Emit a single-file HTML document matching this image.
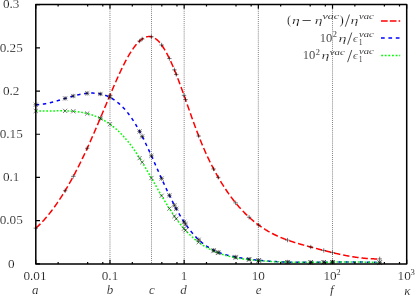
<!DOCTYPE html>
<html><head><meta charset="utf-8"><title>plot</title>
<style>
html,body{margin:0;padding:0;background:#fff;}
body{width:415px;height:296px;overflow:hidden;font-family:"Liberation Serif",serif;}
svg{display:block;position:absolute;left:0;top:0;}
text{font-family:"Liberation Serif",serif;fill:#000;stroke:#fff;stroke-width:0.22px;}
.i{font-style:italic;stroke-width:0.2px;}
.s{stroke-width:0.1px;}
</style></head><body>
<svg width="415" height="296" viewBox="0 0 415 296">
<rect x="0" y="0" width="415" height="296" fill="#fff"/>
<line x1="109.98" y1="4.60" x2="109.98" y2="263.90" stroke="#555" stroke-width="0.75" stroke-dasharray="1 1.06"/>
<line x1="151.51" y1="4.60" x2="151.51" y2="263.90" stroke="#555" stroke-width="0.75" stroke-dasharray="1 1.06"/>
<line x1="184.16" y1="4.60" x2="184.16" y2="263.90" stroke="#555" stroke-width="0.75" stroke-dasharray="1 1.06"/>
<line x1="258.34" y1="4.60" x2="258.34" y2="263.90" stroke="#555" stroke-width="0.75" stroke-dasharray="1 1.06"/>
<line x1="332.52" y1="4.60" x2="332.52" y2="263.90" stroke="#555" stroke-width="0.75" stroke-dasharray="1 1.06"/>
<path d="M35.80,228.15 L36.30,227.70 L36.80,227.25 L37.30,226.79 L37.80,226.33 L38.30,225.85 L38.80,225.37 L39.30,224.89 L39.80,224.39 L40.30,223.89 L40.80,223.39 L41.30,222.87 L41.80,222.35 L42.30,221.82 L42.80,221.29 L43.30,220.75 L43.80,220.20 L44.30,219.65 L44.80,219.08 L45.30,218.52 L45.80,217.94 L46.30,217.36 L46.80,216.77 L47.30,216.18 L47.80,215.58 L48.30,214.97 L48.80,214.35 L49.30,213.73 L49.80,213.10 L50.30,212.47 L50.80,211.83 L51.30,211.18 L51.80,210.53 L52.30,209.87 L52.80,209.20 L53.30,208.52 L53.80,207.84 L54.30,207.16 L54.80,206.46 L55.30,205.76 L55.80,205.06 L56.30,204.34 L56.80,203.63 L57.30,202.90 L57.80,202.17 L58.30,201.43 L58.80,200.68 L59.30,199.93 L59.80,199.18 L60.30,198.41 L60.80,197.64 L61.30,196.86 L61.80,196.08 L62.30,195.29 L62.80,194.50 L63.30,193.69 L63.80,192.89 L64.30,192.07 L64.80,191.25 L65.30,190.43 L65.80,189.59 L66.30,188.75 L66.80,187.91 L67.30,187.06 L67.80,186.20 L68.30,185.33 L68.80,184.46 L69.30,183.59 L69.80,182.71 L70.30,181.82 L70.80,180.92 L71.30,180.02 L71.80,179.12 L72.30,178.20 L72.80,177.28 L73.30,176.36 L73.80,175.43 L74.30,174.49 L74.80,173.55 L75.30,172.60 L75.80,171.65 L76.30,170.68 L76.80,169.72 L77.30,168.75 L77.80,167.77 L78.30,166.78 L78.80,165.79 L79.30,164.80 L79.80,163.79 L80.30,162.79 L80.80,161.77 L81.30,160.75 L81.80,159.73 L82.30,158.70 L82.80,157.66 L83.30,156.62 L83.80,155.57 L84.30,154.51 L84.80,153.45 L85.30,152.39 L85.80,151.32 L86.30,150.24 L86.80,149.16 L87.30,148.07 L87.80,146.97 L88.30,145.87 L88.80,144.77 L89.30,143.66 L89.80,142.54 L90.30,141.42 L90.80,140.30 L91.30,139.17 L91.80,138.03 L92.30,136.90 L92.80,135.75 L93.30,134.61 L93.80,133.46 L94.30,132.30 L94.80,131.15 L95.30,129.99 L95.80,128.83 L96.30,127.66 L96.80,126.49 L97.30,125.32 L97.80,124.15 L98.30,122.97 L98.80,121.79 L99.30,120.61 L99.80,119.43 L100.30,118.25 L100.80,117.06 L101.30,115.88 L101.80,114.69 L102.30,113.50 L102.80,112.31 L103.30,111.12 L103.80,109.93 L104.30,108.74 L104.80,107.55 L105.30,106.36 L105.80,105.17 L106.30,103.98 L106.80,102.79 L107.30,101.60 L107.80,100.42 L108.30,99.23 L108.80,98.04 L109.30,96.86 L109.80,95.67 L110.30,94.49 L110.80,93.31 L111.30,92.14 L111.80,90.96 L112.30,89.79 L112.80,88.62 L113.30,87.46 L113.80,86.30 L114.30,85.14 L114.80,83.99 L115.30,82.84 L115.80,81.70 L116.30,80.57 L116.80,79.44 L117.30,78.32 L117.80,77.21 L118.30,76.11 L118.80,75.01 L119.30,73.92 L119.80,72.84 L120.30,71.77 L120.80,70.71 L121.30,69.66 L121.80,68.61 L122.30,67.58 L122.80,66.57 L123.30,65.56 L123.80,64.56 L124.30,63.58 L124.80,62.61 L125.30,61.65 L125.80,60.70 L126.30,59.77 L126.80,58.86 L127.30,57.95 L127.80,57.07 L128.30,56.19 L128.80,55.34 L129.30,54.49 L129.80,53.67 L130.30,52.86 L130.80,52.07 L131.30,51.29 L131.80,50.53 L132.30,49.79 L132.80,49.06 L133.30,48.35 L133.80,47.66 L134.30,46.99 L134.80,46.33 L135.30,45.70 L135.80,45.08 L136.30,44.49 L136.80,43.91 L137.30,43.35 L137.80,42.81 L138.30,42.29 L138.80,41.80 L139.30,41.32 L139.80,40.86 L140.30,40.43 L140.80,40.01 L141.30,39.62 L141.80,39.25 L142.30,38.91 L142.80,38.58 L143.30,38.28 L143.80,38.00 L144.30,37.74 L144.80,37.51 L145.30,37.30 L145.80,37.12 L146.30,36.96 L146.80,36.82 L147.30,36.71 L147.80,36.62 L148.30,36.56 L148.80,36.53 L149.30,36.52 L149.80,36.53 L150.30,36.58 L150.80,36.65 L151.30,36.74 L151.80,36.87 L152.30,37.02 L152.80,37.19 L153.30,37.40 L153.80,37.64 L154.30,37.90 L154.80,38.19 L155.30,38.51 L155.80,38.86 L156.30,39.24 L156.80,39.65 L157.30,40.08 L157.80,40.55 L158.30,41.04 L158.80,41.57 L159.30,42.12 L159.80,42.70 L160.30,43.30 L160.80,43.93 L161.30,44.59 L161.80,45.27 L162.30,45.98 L162.80,46.71 L163.30,47.47 L163.80,48.25 L164.30,49.06 L164.80,49.89 L165.30,50.74 L165.80,51.62 L166.30,52.52 L166.80,53.44 L167.30,54.38 L167.80,55.34 L168.30,56.32 L168.80,57.32 L169.30,58.35 L169.80,59.39 L170.30,60.45 L170.80,61.53 L171.30,62.63 L171.80,63.75 L172.30,64.89 L172.80,66.04 L173.30,67.21 L173.80,68.39 L174.30,69.59 L174.80,70.81 L175.30,72.04 L175.80,73.29 L176.30,74.55 L176.80,75.83 L177.30,77.12 L177.80,78.42 L178.30,79.73 L178.80,81.05 L179.30,82.38 L179.80,83.73 L180.30,85.08 L180.80,86.44 L181.30,87.81 L181.80,89.18 L182.30,90.57 L182.80,91.96 L183.30,93.35 L183.80,94.75 L184.30,96.16 L184.80,97.57 L185.30,98.98 L185.80,100.40 L186.30,101.82 L186.80,103.24 L187.30,104.66 L187.80,106.08 L188.30,107.50 L188.80,108.92 L189.30,110.34 L189.80,111.76 L190.30,113.17 L190.80,114.58 L191.30,115.99 L191.80,117.39 L192.30,118.79 L192.80,120.19 L193.30,121.58 L193.80,122.96 L194.30,124.33 L194.80,125.70 L195.30,127.05 L195.80,128.40 L196.30,129.74 L196.80,131.07 L197.30,132.39 L197.80,133.70 L198.30,134.99 L198.80,136.27 L199.30,137.55 L199.80,138.80 L200.30,140.05 L200.80,141.28 L201.30,142.50 L201.80,143.71 L202.30,144.91 L202.80,146.09 L203.30,147.26 L203.80,148.43 L204.30,149.57 L204.80,150.71 L205.30,151.84 L205.80,152.96 L206.30,154.06 L206.80,155.15 L207.30,156.23 L207.80,157.31 L208.30,158.37 L208.80,159.42 L209.30,160.46 L209.80,161.49 L210.30,162.50 L210.80,163.51 L211.30,164.51 L211.80,165.50 L212.30,166.48 L212.80,167.45 L213.30,168.40 L213.80,169.35 L214.30,170.29 L214.80,171.22 L215.30,172.15 L215.80,173.06 L216.30,173.96 L216.80,174.86 L217.30,175.74 L217.80,176.62 L218.30,177.48 L218.80,178.34 L219.30,179.19 L219.80,180.04 L220.30,180.87 L220.80,181.70 L221.30,182.52 L221.80,183.33 L222.30,184.13 L222.80,184.92 L223.30,185.71 L223.80,186.49 L224.30,187.26 L224.80,188.03 L225.30,188.79 L225.80,189.54 L226.30,190.28 L226.80,191.02 L227.30,191.74 L227.80,192.47 L228.30,193.18 L228.80,193.89 L229.30,194.59 L229.80,195.28 L230.30,195.97 L230.80,196.65 L231.30,197.33 L231.80,197.99 L232.30,198.65 L232.80,199.31 L233.30,199.95 L233.80,200.59 L234.30,201.23 L234.80,201.85 L235.30,202.47 L235.80,203.09 L236.30,203.70 L236.80,204.30 L237.30,204.89 L237.80,205.48 L238.30,206.07 L238.80,206.64 L239.30,207.21 L239.80,207.78 L240.30,208.34 L240.80,208.89 L241.30,209.44 L241.80,209.98 L242.30,210.51 L242.80,211.04 L243.30,211.56 L243.80,212.08 L244.30,212.59 L244.80,213.10 L245.30,213.60 L245.80,214.10 L246.30,214.59 L246.80,215.07 L247.30,215.55 L247.80,216.02 L248.30,216.49 L248.80,216.95 L249.30,217.41 L249.80,217.86 L250.30,218.31 L250.80,218.75 L251.30,219.19 L251.80,219.62 L252.30,220.05 L252.80,220.47 L253.30,220.89 L253.80,221.30 L254.30,221.70 L254.80,222.11 L255.30,222.50 L255.80,222.90 L256.30,223.29 L256.80,223.67 L257.30,224.05 L257.80,224.42 L258.30,224.79 L258.80,225.16 L259.30,225.52 L259.80,225.88 L260.30,226.23 L260.80,226.58 L261.30,226.92 L261.80,227.26 L262.30,227.60 L262.80,227.93 L263.30,228.26 L263.80,228.58 L264.30,228.90 L264.80,229.21 L265.30,229.53 L265.80,229.83 L266.30,230.14 L266.80,230.44 L267.30,230.73 L267.80,231.03 L268.30,231.31 L268.80,231.60 L269.30,231.88 L269.80,232.16 L270.30,232.44 L270.80,232.71 L271.30,232.97 L271.80,233.24 L272.30,233.50 L272.80,233.76 L273.30,234.01 L273.80,234.27 L274.30,234.51 L274.80,234.76 L275.30,235.00 L275.80,235.24 L276.30,235.48 L276.80,235.71 L277.30,235.94 L277.80,236.17 L278.30,236.39 L278.80,236.62 L279.30,236.84 L279.80,237.05 L280.30,237.27 L280.80,237.48 L281.30,237.69 L281.80,237.89 L282.30,238.10 L282.80,238.30 L283.30,238.50 L283.80,238.69 L284.30,238.89 L284.80,239.08 L285.30,239.27 L285.80,239.46 L286.30,239.65 L286.80,239.83 L287.30,240.01 L287.80,240.19 L288.30,240.37 L288.80,240.54 L289.30,240.72 L289.80,240.89 L290.30,241.06 L290.80,241.23 L291.30,241.40 L291.80,241.56 L292.30,241.73 L292.80,241.89 L293.30,242.05 L293.80,242.21 L294.30,242.36 L294.80,242.52 L295.30,242.68 L295.80,242.83 L296.30,242.98 L296.80,243.13 L297.30,243.28 L297.80,243.43 L298.30,243.58 L298.80,243.73 L299.30,243.87 L299.80,244.02 L300.30,244.16 L300.80,244.30 L301.30,244.44 L301.80,244.58 L302.30,244.72 L302.80,244.86 L303.30,245.00 L303.80,245.14 L304.30,245.28 L304.80,245.42 L305.30,245.55 L305.80,245.69 L306.30,245.82 L306.80,245.96 L307.30,246.09 L307.80,246.23 L308.30,246.36 L308.80,246.50 L309.30,246.63 L309.80,246.77 L310.30,246.90 L310.80,247.03 L311.30,247.17 L311.80,247.30 L312.30,247.43 L312.80,247.57 L313.30,247.70 L313.80,247.83 L314.30,247.97 L314.80,248.10 L315.30,248.23 L315.80,248.37 L316.30,248.50 L316.80,248.63 L317.30,248.76 L317.80,248.90 L318.30,249.03 L318.80,249.16 L319.30,249.29 L319.80,249.42 L320.30,249.55 L320.80,249.68 L321.30,249.81 L321.80,249.95 L322.30,250.07 L322.80,250.20 L323.30,250.33 L323.80,250.46 L324.30,250.59 L324.80,250.72 L325.30,250.85 L325.80,250.97 L326.30,251.10 L326.80,251.22 L327.30,251.35 L327.80,251.48 L328.30,251.60 L328.80,251.72 L329.30,251.85 L329.80,251.97 L330.30,252.09 L330.80,252.21 L331.30,252.34 L331.80,252.46 L332.30,252.58 L332.80,252.69 L333.30,252.81 L333.80,252.93 L334.30,253.05 L334.80,253.17 L335.30,253.28 L335.80,253.40 L336.30,253.51 L336.80,253.62 L337.30,253.74 L337.80,253.85 L338.30,253.96 L338.80,254.07 L339.30,254.18 L339.80,254.29 L340.30,254.40 L340.80,254.50 L341.30,254.61 L341.80,254.71 L342.30,254.82 L342.80,254.92 L343.30,255.02 L343.80,255.12 L344.30,255.23 L344.80,255.32 L345.30,255.42 L345.80,255.52 L346.30,255.62 L346.80,255.71 L347.30,255.81 L347.80,255.90 L348.30,255.99 L348.80,256.08 L349.30,256.17 L349.80,256.26 L350.30,256.35 L350.80,256.43 L351.30,256.52 L351.80,256.60 L352.30,256.68 L352.80,256.77 L353.30,256.85 L353.80,256.92 L354.30,257.00 L354.80,257.08 L355.30,257.15 L355.80,257.23 L356.30,257.30 L356.80,257.37 L357.30,257.44 L357.80,257.51 L358.30,257.57 L358.80,257.64 L359.30,257.70 L359.80,257.77 L360.30,257.83 L360.80,257.89 L361.30,257.94 L361.80,258.00 L362.30,258.05 L362.80,258.11 L363.30,258.16 L363.80,258.21 L364.30,258.26 L364.80,258.31 L365.30,258.35 L365.80,258.40 L366.30,258.44 L366.80,258.48 L367.30,258.52 L367.80,258.56 L368.30,258.59 L368.80,258.62 L369.30,258.66 L369.80,258.69 L370.30,258.72 L370.80,258.74 L371.30,258.77 L371.80,258.79 L372.30,258.81 L372.80,258.83 L373.30,258.85 L373.80,258.87 L374.30,258.88 L374.80,258.89 L375.30,258.90 L375.80,258.91 L376.30,258.92 L376.80,258.92 L377.30,258.92 L377.80,258.93 L378.30,258.92 L378.80,258.92 L379.30,258.92" fill="none" stroke="#ff0000" stroke-width="1.5" stroke-dasharray="6.4 2.9"/>
<path d="M35.80,104.73 L36.30,104.72 L36.80,104.70 L37.30,104.68 L37.80,104.66 L38.30,104.63 L38.80,104.59 L39.30,104.55 L39.80,104.51 L40.30,104.46 L40.80,104.40 L41.30,104.34 L41.80,104.28 L42.30,104.22 L42.80,104.15 L43.30,104.07 L43.80,103.99 L44.30,103.91 L44.80,103.83 L45.30,103.74 L45.80,103.64 L46.30,103.55 L46.80,103.45 L47.30,103.35 L47.80,103.24 L48.30,103.13 L48.80,103.02 L49.30,102.91 L49.80,102.79 L50.30,102.67 L50.80,102.55 L51.30,102.43 L51.80,102.30 L52.30,102.17 L52.80,102.04 L53.30,101.91 L53.80,101.77 L54.30,101.63 L54.80,101.50 L55.30,101.36 L55.80,101.21 L56.30,101.07 L56.80,100.93 L57.30,100.78 L57.80,100.63 L58.30,100.49 L58.80,100.34 L59.30,100.19 L59.80,100.04 L60.30,99.88 L60.80,99.73 L61.30,99.58 L61.80,99.43 L62.30,99.27 L62.80,99.12 L63.30,98.97 L63.80,98.81 L64.30,98.66 L64.80,98.51 L65.30,98.35 L65.80,98.20 L66.30,98.05 L66.80,97.90 L67.30,97.74 L67.80,97.59 L68.30,97.44 L68.80,97.30 L69.30,97.15 L69.80,97.00 L70.30,96.86 L70.80,96.71 L71.30,96.57 L71.80,96.43 L72.30,96.29 L72.80,96.15 L73.30,96.01 L73.80,95.88 L74.30,95.75 L74.80,95.62 L75.30,95.49 L75.80,95.36 L76.30,95.24 L76.80,95.12 L77.30,95.00 L77.80,94.88 L78.30,94.77 L78.80,94.66 L79.30,94.55 L79.80,94.45 L80.30,94.35 L80.80,94.25 L81.30,94.15 L81.80,94.06 L82.30,93.97 L82.80,93.89 L83.30,93.81 L83.80,93.73 L84.30,93.66 L84.80,93.59 L85.30,93.53 L85.80,93.46 L86.30,93.41 L86.80,93.36 L87.30,93.31 L87.80,93.26 L88.30,93.23 L88.80,93.19 L89.30,93.16 L89.80,93.14 L90.30,93.12 L90.80,93.10 L91.30,93.10 L91.80,93.09 L92.30,93.09 L92.80,93.10 L93.30,93.11 L93.80,93.13 L94.30,93.16 L94.80,93.19 L95.30,93.22 L95.80,93.26 L96.30,93.31 L96.80,93.37 L97.30,93.43 L97.80,93.49 L98.30,93.57 L98.80,93.65 L99.30,93.74 L99.80,93.83 L100.30,93.93 L100.80,94.04 L101.30,94.15 L101.80,94.28 L102.30,94.40 L102.80,94.54 L103.30,94.69 L103.80,94.84 L104.30,95.00 L104.80,95.16 L105.30,95.34 L105.80,95.52 L106.30,95.71 L106.80,95.91 L107.30,96.12 L107.80,96.34 L108.30,96.56 L108.80,96.79 L109.30,97.04 L109.80,97.29 L110.30,97.54 L110.80,97.81 L111.30,98.09 L111.80,98.38 L112.30,98.67 L112.80,98.98 L113.30,99.29 L113.80,99.61 L114.30,99.95 L114.80,100.29 L115.30,100.64 L115.80,101.00 L116.30,101.37 L116.80,101.76 L117.30,102.15 L117.80,102.55 L118.30,102.96 L118.80,103.39 L119.30,103.82 L119.80,104.27 L120.30,104.72 L120.80,105.19 L121.30,105.66 L121.80,106.15 L122.30,106.65 L122.80,107.16 L123.30,107.68 L123.80,108.22 L124.30,108.76 L124.80,109.32 L125.30,109.88 L125.80,110.46 L126.30,111.05 L126.80,111.66 L127.30,112.27 L127.80,112.90 L128.30,113.54 L128.80,114.19 L129.30,114.86 L129.80,115.53 L130.30,116.22 L130.80,116.92 L131.30,117.64 L131.80,118.37 L132.30,119.11 L132.80,119.86 L133.30,120.63 L133.80,121.41 L134.30,122.20 L134.80,123.01 L135.30,123.83 L135.80,124.67 L136.30,125.51 L136.80,126.37 L137.30,127.25 L137.80,128.13 L138.30,129.03 L138.80,129.94 L139.30,130.86 L139.80,131.79 L140.30,132.74 L140.80,133.69 L141.30,134.65 L141.80,135.63 L142.30,136.61 L142.80,137.60 L143.30,138.60 L143.80,139.61 L144.30,140.63 L144.80,141.66 L145.30,142.69 L145.80,143.73 L146.30,144.78 L146.80,145.83 L147.30,146.89 L147.80,147.96 L148.30,149.03 L148.80,150.11 L149.30,151.19 L149.80,152.28 L150.30,153.38 L150.80,154.47 L151.30,155.57 L151.80,156.68 L152.30,157.78 L152.80,158.89 L153.30,160.01 L153.80,161.12 L154.30,162.24 L154.80,163.36 L155.30,164.48 L155.80,165.60 L156.30,166.72 L156.80,167.84 L157.30,168.97 L157.80,170.09 L158.30,171.21 L158.80,172.33 L159.30,173.45 L159.80,174.57 L160.30,175.69 L160.80,176.80 L161.30,177.91 L161.80,179.02 L162.30,180.13 L162.80,181.23 L163.30,182.33 L163.80,183.42 L164.30,184.51 L164.80,185.60 L165.30,186.68 L165.80,187.76 L166.30,188.83 L166.80,189.89 L167.30,190.95 L167.80,192.01 L168.30,193.06 L168.80,194.10 L169.30,195.13 L169.80,196.16 L170.30,197.18 L170.80,198.20 L171.30,199.21 L171.80,200.21 L172.30,201.20 L172.80,202.19 L173.30,203.16 L173.80,204.13 L174.30,205.09 L174.80,206.04 L175.30,206.99 L175.80,207.92 L176.30,208.85 L176.80,209.76 L177.30,210.67 L177.80,211.56 L178.30,212.45 L178.80,213.33 L179.30,214.19 L179.80,215.05 L180.30,215.89 L180.80,216.73 L181.30,217.55 L181.80,218.36 L182.30,219.16 L182.80,219.95 L183.30,220.73 L183.80,221.50 L184.30,222.26 L184.80,223.01 L185.30,223.74 L185.80,224.47 L186.30,225.19 L186.80,225.89 L187.30,226.59 L187.80,227.27 L188.30,227.95 L188.80,228.61 L189.30,229.27 L189.80,229.91 L190.30,230.54 L190.80,231.17 L191.30,231.78 L191.80,232.39 L192.30,232.98 L192.80,233.57 L193.30,234.14 L193.80,234.71 L194.30,235.27 L194.80,235.81 L195.30,236.35 L195.80,236.88 L196.30,237.40 L196.80,237.91 L197.30,238.41 L197.80,238.90 L198.30,239.38 L198.80,239.85 L199.30,240.32 L199.80,240.77 L200.30,241.22 L200.80,241.65 L201.30,242.08 L201.80,242.50 L202.30,242.92 L202.80,243.32 L203.30,243.71 L203.80,244.10 L204.30,244.48 L204.80,244.85 L205.30,245.22 L205.80,245.57 L206.30,245.92 L206.80,246.26 L207.30,246.60 L207.80,246.93 L208.30,247.25 L208.80,247.56 L209.30,247.86 L209.80,248.16 L210.30,248.46 L210.80,248.74 L211.30,249.02 L211.80,249.30 L212.30,249.56 L212.80,249.82 L213.30,250.08 L213.80,250.33 L214.30,250.57 L214.80,250.81 L215.30,251.04 L215.80,251.26 L216.30,251.49 L216.80,251.70 L217.30,251.91 L217.80,252.12 L218.30,252.32 L218.80,252.51 L219.30,252.70 L219.80,252.89 L220.30,253.07 L220.80,253.25 L221.30,253.42 L221.80,253.59 L222.30,253.75 L222.80,253.91 L223.30,254.07 L223.80,254.22 L224.30,254.37 L224.80,254.52 L225.30,254.66 L225.80,254.80 L226.30,254.93 L226.80,255.07 L227.30,255.19 L227.80,255.32 L228.30,255.44 L228.80,255.56 L229.30,255.68 L229.80,255.80 L230.30,255.91 L230.80,256.02 L231.30,256.13 L231.80,256.24 L232.30,256.34 L232.80,256.44 L233.30,256.54 L233.80,256.64 L234.30,256.74 L234.80,256.84 L235.30,256.93 L235.80,257.02 L236.30,257.12 L236.80,257.21 L237.30,257.30 L237.80,257.39 L238.30,257.48 L238.80,257.56 L239.30,257.65 L239.80,257.73 L240.30,257.82 L240.80,257.90 L241.30,257.98 L241.80,258.06 L242.30,258.14 L242.80,258.22 L243.30,258.30 L243.80,258.38 L244.30,258.45 L244.80,258.53 L245.30,258.60 L245.80,258.68 L246.30,258.75 L246.80,258.82 L247.30,258.89 L247.80,258.96 L248.30,259.03 L248.80,259.10 L249.30,259.17 L249.80,259.23 L250.30,259.30 L250.80,259.36 L251.30,259.43 L251.80,259.49 L252.30,259.55 L252.80,259.61 L253.30,259.67 L253.80,259.73 L254.30,259.79 L254.80,259.85 L255.30,259.90 L255.80,259.96 L256.30,260.02 L256.80,260.07 L257.30,260.12 L257.80,260.18 L258.30,260.23 L258.80,260.28 L259.30,260.33 L259.80,260.38 L260.30,260.43 L260.80,260.47 L261.30,260.52 L261.80,260.57 L262.30,260.61 L262.80,260.66 L263.30,260.70 L263.80,260.75 L264.30,260.79 L264.80,260.83 L265.30,260.87 L265.80,260.91 L266.30,260.95 L266.80,260.99 L267.30,261.03 L267.80,261.07 L268.30,261.11 L268.80,261.14 L269.30,261.18 L269.80,261.21 L270.30,261.25 L270.80,261.28 L271.30,261.31 L271.80,261.35 L272.30,261.38 L272.80,261.41 L273.30,261.44 L273.80,261.47 L274.30,261.50 L274.80,261.53 L275.30,261.56 L275.80,261.58 L276.30,261.61 L276.80,261.64 L277.30,261.66 L277.80,261.69 L278.30,261.71 L278.80,261.73 L279.30,261.76 L279.80,261.78 L280.30,261.80 L280.80,261.82 L281.30,261.85 L281.80,261.87 L282.30,261.89 L282.80,261.91 L283.30,261.93 L283.80,261.94 L284.30,261.96 L284.80,261.98 L285.30,262.00 L285.80,262.01 L286.30,262.03 L286.80,262.04 L287.30,262.06 L287.80,262.07 L288.30,262.09 L288.80,262.10 L289.30,262.11 L289.80,262.13 L290.30,262.14 L290.80,262.15 L291.30,262.16 L291.80,262.17 L292.30,262.18 L292.80,262.19 L293.30,262.20 L293.80,262.21 L294.30,262.22 L294.80,262.23 L295.30,262.24 L295.80,262.25 L296.30,262.25 L296.80,262.26 L297.30,262.27 L297.80,262.27 L298.30,262.28 L298.80,262.29 L299.30,262.29 L299.80,262.30 L300.30,262.30 L300.80,262.30 L301.30,262.31 L301.80,262.31 L302.30,262.31 L302.80,262.32 L303.30,262.32 L303.80,262.32 L304.30,262.32 L304.80,262.33 L305.30,262.33 L305.80,262.33 L306.30,262.33 L306.80,262.33 L307.30,262.33 L307.80,262.33 L308.30,262.33 L308.80,262.33 L309.30,262.33 L309.80,262.33 L310.30,262.33 L310.80,262.33 L311.30,262.33 L311.80,262.32 L312.30,262.32 L312.80,262.32 L313.30,262.32 L313.80,262.32 L314.30,262.31 L314.80,262.31 L315.30,262.31 L315.80,262.30 L316.30,262.30 L316.80,262.30 L317.30,262.29 L317.80,262.29 L318.30,262.29 L318.80,262.28 L319.30,262.28 L319.80,262.27 L320.30,262.27 L320.80,262.27 L321.30,262.26 L321.80,262.26 L322.30,262.25 L322.80,262.25 L323.30,262.24 L323.80,262.24 L324.30,262.23 L324.80,262.23 L325.30,262.22 L325.80,262.22 L326.30,262.21 L326.80,262.21 L327.30,262.20 L327.80,262.20 L328.30,262.19 L328.80,262.19 L329.30,262.18 L329.80,262.17 L330.30,262.17 L330.80,262.16 L331.30,262.16 L331.80,262.15 L332.30,262.15 L332.80,262.14 L333.30,262.14 L333.80,262.13 L334.30,262.13 L334.80,262.12 L335.30,262.12 L335.80,262.11 L336.30,262.11 L336.80,262.10 L337.30,262.10 L337.80,262.09 L338.30,262.09 L338.80,262.08 L339.30,262.08 L339.80,262.07 L340.30,262.07 L340.80,262.06 L341.30,262.06 L341.80,262.06 L342.30,262.05 L342.80,262.05 L343.30,262.04 L343.80,262.04 L344.30,262.04 L344.80,262.04 L345.30,262.03 L345.80,262.03 L346.30,262.03 L346.80,262.02 L347.30,262.02 L347.80,262.02 L348.30,262.02 L348.80,262.02 L349.30,262.02 L349.80,262.01 L350.30,262.01 L350.80,262.01 L351.30,262.01 L351.80,262.01 L352.30,262.01 L352.80,262.01 L353.30,262.01 L353.80,262.01 L354.30,262.01 L354.80,262.01 L355.30,262.02 L355.80,262.02 L356.30,262.02 L356.80,262.02 L357.30,262.02 L357.80,262.03 L358.30,262.03 L358.80,262.03 L359.30,262.04 L359.80,262.04 L360.30,262.05 L360.80,262.05 L361.30,262.06 L361.80,262.06 L362.30,262.07 L362.80,262.07 L363.30,262.08 L363.80,262.09 L364.30,262.10 L364.80,262.10 L365.30,262.11 L365.80,262.12 L366.30,262.13 L366.80,262.14 L367.30,262.15 L367.80,262.16 L368.30,262.17 L368.80,262.18 L369.30,262.19 L369.80,262.20 L370.30,262.21 L370.80,262.23 L371.30,262.24 L371.80,262.25 L372.30,262.27 L372.80,262.28 L373.30,262.30 L373.80,262.31 L374.30,262.33 L374.80,262.35 L375.30,262.36 L375.80,262.38 L376.30,262.40 L376.80,262.42 L377.30,262.43 L377.80,262.45 L378.30,262.47 L378.80,262.49 L379.30,262.52" fill="none" stroke="#0000ff" stroke-width="1.5" stroke-dasharray="3.4 3.7"/>
<path d="M35.80,110.96 L36.30,110.97 L36.80,110.99 L37.30,111.00 L37.80,111.01 L38.30,111.02 L38.80,111.03 L39.30,111.04 L39.80,111.05 L40.30,111.05 L40.80,111.06 L41.30,111.06 L41.80,111.06 L42.30,111.06 L42.80,111.06 L43.30,111.06 L43.80,111.06 L44.30,111.05 L44.80,111.05 L45.30,111.04 L45.80,111.04 L46.30,111.03 L46.80,111.03 L47.30,111.02 L47.80,111.01 L48.30,111.00 L48.80,111.00 L49.30,110.99 L49.80,110.98 L50.30,110.97 L50.80,110.96 L51.30,110.95 L51.80,110.94 L52.30,110.93 L52.80,110.92 L53.30,110.91 L53.80,110.91 L54.30,110.90 L54.80,110.89 L55.30,110.88 L55.80,110.87 L56.30,110.87 L56.80,110.86 L57.30,110.85 L57.80,110.85 L58.30,110.84 L58.80,110.84 L59.30,110.84 L59.80,110.83 L60.30,110.83 L60.80,110.83 L61.30,110.83 L61.80,110.83 L62.30,110.84 L62.80,110.84 L63.30,110.85 L63.80,110.85 L64.30,110.86 L64.80,110.87 L65.30,110.88 L65.80,110.89 L66.30,110.90 L66.80,110.92 L67.30,110.94 L67.80,110.95 L68.30,110.97 L68.80,111.00 L69.30,111.02 L69.80,111.05 L70.30,111.07 L70.80,111.10 L71.30,111.14 L71.80,111.17 L72.30,111.20 L72.80,111.24 L73.30,111.28 L73.80,111.33 L74.30,111.37 L74.80,111.42 L75.30,111.47 L75.80,111.52 L76.30,111.58 L76.80,111.64 L77.30,111.70 L77.80,111.76 L78.30,111.83 L78.80,111.90 L79.30,111.97 L79.80,112.04 L80.30,112.12 L80.80,112.20 L81.30,112.29 L81.80,112.37 L82.30,112.47 L82.80,112.56 L83.30,112.66 L83.80,112.76 L84.30,112.86 L84.80,112.97 L85.30,113.08 L85.80,113.20 L86.30,113.32 L86.80,113.44 L87.30,113.56 L87.80,113.70 L88.30,113.83 L88.80,113.97 L89.30,114.11 L89.80,114.26 L90.30,114.41 L90.80,114.56 L91.30,114.72 L91.80,114.88 L92.30,115.05 L92.80,115.22 L93.30,115.40 L93.80,115.58 L94.30,115.76 L94.80,115.95 L95.30,116.15 L95.80,116.35 L96.30,116.55 L96.80,116.76 L97.30,116.97 L97.80,117.19 L98.30,117.41 L98.80,117.64 L99.30,117.87 L99.80,118.11 L100.30,118.36 L100.80,118.61 L101.30,118.86 L101.80,119.12 L102.30,119.39 L102.80,119.66 L103.30,119.93 L103.80,120.21 L104.30,120.50 L104.80,120.79 L105.30,121.09 L105.80,121.40 L106.30,121.71 L106.80,122.02 L107.30,122.34 L107.80,122.67 L108.30,123.01 L108.80,123.35 L109.30,123.69 L109.80,124.05 L110.30,124.41 L110.80,124.77 L111.30,125.14 L111.80,125.52 L112.30,125.90 L112.80,126.30 L113.30,126.69 L113.80,127.10 L114.30,127.51 L114.80,127.93 L115.30,128.35 L115.80,128.78 L116.30,129.22 L116.80,129.66 L117.30,130.12 L117.80,130.58 L118.30,131.04 L118.80,131.52 L119.30,132.00 L119.80,132.48 L120.30,132.98 L120.80,133.48 L121.30,133.99 L121.80,134.51 L122.30,135.04 L122.80,135.57 L123.30,136.11 L123.80,136.66 L124.30,137.21 L124.80,137.78 L125.30,138.35 L125.80,138.93 L126.30,139.52 L126.80,140.11 L127.30,140.72 L127.80,141.33 L128.30,141.95 L128.80,142.58 L129.30,143.21 L129.80,143.86 L130.30,144.51 L130.80,145.17 L131.30,145.84 L131.80,146.52 L132.30,147.21 L132.80,147.91 L133.30,148.61 L133.80,149.32 L134.30,150.04 L134.80,150.77 L135.30,151.51 L135.80,152.25 L136.30,153.00 L136.80,153.76 L137.30,154.52 L137.80,155.29 L138.30,156.07 L138.80,156.85 L139.30,157.64 L139.80,158.43 L140.30,159.23 L140.80,160.04 L141.30,160.85 L141.80,161.66 L142.30,162.48 L142.80,163.31 L143.30,164.14 L143.80,164.97 L144.30,165.81 L144.80,166.65 L145.30,167.49 L145.80,168.34 L146.30,169.19 L146.80,170.05 L147.30,170.90 L147.80,171.76 L148.30,172.63 L148.80,173.49 L149.30,174.36 L149.80,175.22 L150.30,176.09 L150.80,176.97 L151.30,177.84 L151.80,178.71 L152.30,179.59 L152.80,180.46 L153.30,181.34 L153.80,182.21 L154.30,183.09 L154.80,183.96 L155.30,184.84 L155.80,185.71 L156.30,186.59 L156.80,187.46 L157.30,188.33 L157.80,189.20 L158.30,190.07 L158.80,190.94 L159.30,191.80 L159.80,192.67 L160.30,193.53 L160.80,194.39 L161.30,195.24 L161.80,196.10 L162.30,196.95 L162.80,197.79 L163.30,198.64 L163.80,199.48 L164.30,200.31 L164.80,201.15 L165.30,201.97 L165.80,202.80 L166.30,203.62 L166.80,204.43 L167.30,205.25 L167.80,206.05 L168.30,206.85 L168.80,207.65 L169.30,208.44 L169.80,209.23 L170.30,210.01 L170.80,210.78 L171.30,211.55 L171.80,212.31 L172.30,213.07 L172.80,213.82 L173.30,214.56 L173.80,215.30 L174.30,216.03 L174.80,216.76 L175.30,217.47 L175.80,218.18 L176.30,218.88 L176.80,219.58 L177.30,220.27 L177.80,220.94 L178.30,221.62 L178.80,222.28 L179.30,222.93 L179.80,223.58 L180.30,224.22 L180.80,224.84 L181.30,225.46 L181.80,226.07 L182.30,226.68 L182.80,227.27 L183.30,227.86 L183.80,228.43 L184.30,229.00 L184.80,229.56 L185.30,230.12 L185.80,230.66 L186.30,231.20 L186.80,231.73 L187.30,232.25 L187.80,232.76 L188.30,233.27 L188.80,233.77 L189.30,234.26 L189.80,234.74 L190.30,235.22 L190.80,235.69 L191.30,236.16 L191.80,236.61 L192.30,237.06 L192.80,237.51 L193.30,237.94 L193.80,238.38 L194.30,238.80 L194.80,239.22 L195.30,239.63 L195.80,240.04 L196.30,240.44 L196.80,240.83 L197.30,241.22 L197.80,241.60 L198.30,241.98 L198.80,242.35 L199.30,242.71 L199.80,243.07 L200.30,243.43 L200.80,243.77 L201.30,244.12 L201.80,244.45 L202.30,244.79 L202.80,245.11 L203.30,245.44 L203.80,245.75 L204.30,246.07 L204.80,246.37 L205.30,246.68 L205.80,246.97 L206.30,247.27 L206.80,247.55 L207.30,247.84 L207.80,248.12 L208.30,248.39 L208.80,248.66 L209.30,248.92 L209.80,249.19 L210.30,249.44 L210.80,249.69 L211.30,249.94 L211.80,250.18 L212.30,250.42 L212.80,250.66 L213.30,250.89 L213.80,251.12 L214.30,251.34 L214.80,251.56 L215.30,251.77 L215.80,251.98 L216.30,252.19 L216.80,252.40 L217.30,252.60 L217.80,252.79 L218.30,252.98 L218.80,253.17 L219.30,253.36 L219.80,253.54 L220.30,253.72 L220.80,253.89 L221.30,254.06 L221.80,254.23 L222.30,254.40 L222.80,254.56 L223.30,254.72 L223.80,254.87 L224.30,255.02 L224.80,255.17 L225.30,255.32 L225.80,255.46 L226.30,255.60 L226.80,255.74 L227.30,255.87 L227.80,256.01 L228.30,256.14 L228.80,256.26 L229.30,256.39 L229.80,256.51 L230.30,256.63 L230.80,256.74 L231.30,256.85 L231.80,256.97 L232.30,257.07 L232.80,257.18 L233.30,257.29 L233.80,257.39 L234.30,257.49 L234.80,257.59 L235.30,257.68 L235.80,257.77 L236.30,257.87 L236.80,257.96 L237.30,258.04 L237.80,258.13 L238.30,258.21 L238.80,258.30 L239.30,258.38 L239.80,258.46 L240.30,258.53 L240.80,258.61 L241.30,258.68 L241.80,258.76 L242.30,258.83 L242.80,258.90 L243.30,258.97 L243.80,259.03 L244.30,259.10 L244.80,259.16 L245.30,259.23 L245.80,259.29 L246.30,259.35 L246.80,259.41 L247.30,259.47 L247.80,259.53 L248.30,259.59 L248.80,259.65 L249.30,259.70 L249.80,259.76 L250.30,259.81 L250.80,259.87 L251.30,259.92 L251.80,259.97 L252.30,260.02 L252.80,260.07 L253.30,260.12 L253.80,260.17 L254.30,260.22 L254.80,260.27 L255.30,260.32 L255.80,260.36 L256.30,260.41 L256.80,260.45 L257.30,260.50 L257.80,260.54 L258.30,260.59 L258.80,260.63 L259.30,260.67 L259.80,260.71 L260.30,260.75 L260.80,260.79 L261.30,260.83 L261.80,260.87 L262.30,260.91 L262.80,260.94 L263.30,260.98 L263.80,261.02 L264.30,261.05 L264.80,261.09 L265.30,261.12 L265.80,261.15 L266.30,261.19 L266.80,261.22 L267.30,261.25 L267.80,261.28 L268.30,261.31 L268.80,261.34 L269.30,261.37 L269.80,261.40 L270.30,261.43 L270.80,261.45 L271.30,261.48 L271.80,261.51 L272.30,261.53 L272.80,261.56 L273.30,261.58 L273.80,261.61 L274.30,261.63 L274.80,261.66 L275.30,261.68 L275.80,261.70 L276.30,261.72 L276.80,261.74 L277.30,261.77 L277.80,261.79 L278.30,261.81 L278.80,261.82 L279.30,261.84 L279.80,261.86 L280.30,261.88 L280.80,261.90 L281.30,261.91 L281.80,261.93 L282.30,261.95 L282.80,261.96 L283.30,261.98 L283.80,261.99 L284.30,262.01 L284.80,262.02 L285.30,262.03 L285.80,262.05 L286.30,262.06 L286.80,262.07 L287.30,262.08 L287.80,262.10 L288.30,262.11 L288.80,262.12 L289.30,262.13 L289.80,262.14 L290.30,262.15 L290.80,262.16 L291.30,262.16 L291.80,262.17 L292.30,262.18 L292.80,262.19 L293.30,262.20 L293.80,262.20 L294.30,262.21 L294.80,262.22 L295.30,262.22 L295.80,262.23 L296.30,262.23 L296.80,262.24 L297.30,262.24 L297.80,262.25 L298.30,262.25 L298.80,262.26 L299.30,262.26 L299.80,262.26 L300.30,262.27 L300.80,262.27 L301.30,262.27 L301.80,262.27 L302.30,262.28 L302.80,262.28 L303.30,262.28 L303.80,262.28 L304.30,262.28 L304.80,262.28 L305.30,262.28 L305.80,262.28 L306.30,262.28 L306.80,262.28 L307.30,262.28 L307.80,262.28 L308.30,262.28 L308.80,262.28 L309.30,262.28 L309.80,262.28 L310.30,262.28 L310.80,262.28 L311.30,262.28 L311.80,262.27 L312.30,262.27 L312.80,262.27 L313.30,262.27 L313.80,262.26 L314.30,262.26 L314.80,262.26 L315.30,262.26 L315.80,262.25 L316.30,262.25 L316.80,262.25 L317.30,262.24 L317.80,262.24 L318.30,262.24 L318.80,262.23 L319.30,262.23 L319.80,262.22 L320.30,262.22 L320.80,262.22 L321.30,262.21 L321.80,262.21 L322.30,262.20 L322.80,262.20 L323.30,262.20 L323.80,262.19 L324.30,262.19 L324.80,262.18 L325.30,262.18 L325.80,262.17 L326.30,262.17 L326.80,262.16 L327.30,262.16 L327.80,262.15 L328.30,262.15 L328.80,262.15 L329.30,262.14 L329.80,262.14 L330.30,262.13 L330.80,262.13 L331.30,262.12 L331.80,262.12 L332.30,262.11 L332.80,262.11 L333.30,262.10 L333.80,262.10 L334.30,262.10 L334.80,262.09 L335.30,262.09 L335.80,262.08 L336.30,262.08 L336.80,262.08 L337.30,262.07 L337.80,262.07 L338.30,262.06 L338.80,262.06 L339.30,262.06 L339.80,262.05 L340.30,262.05 L340.80,262.05 L341.30,262.04 L341.80,262.04 L342.30,262.04 L342.80,262.03 L343.30,262.03 L343.80,262.03 L344.30,262.03 L344.80,262.03 L345.30,262.02 L345.80,262.02 L346.30,262.02 L346.80,262.02 L347.30,262.02 L347.80,262.02 L348.30,262.02 L348.80,262.01 L349.30,262.01 L349.80,262.01 L350.30,262.01 L350.80,262.01 L351.30,262.01 L351.80,262.01 L352.30,262.02 L352.80,262.02 L353.30,262.02 L353.80,262.02 L354.30,262.02 L354.80,262.02 L355.30,262.03 L355.80,262.03 L356.30,262.03 L356.80,262.03 L357.30,262.04 L357.80,262.04 L358.30,262.04 L358.80,262.05 L359.30,262.05 L359.80,262.06 L360.30,262.06 L360.80,262.07 L361.30,262.07 L361.80,262.08 L362.30,262.09 L362.80,262.09 L363.30,262.10 L363.80,262.11 L364.30,262.11 L364.80,262.12 L365.30,262.13 L365.80,262.14 L366.30,262.15 L366.80,262.16 L367.30,262.17 L367.80,262.18 L368.30,262.19 L368.80,262.20 L369.30,262.21 L369.80,262.22 L370.30,262.23 L370.80,262.25 L371.30,262.26 L371.80,262.27 L372.30,262.29 L372.80,262.30 L373.30,262.32 L373.80,262.33 L374.30,262.35 L374.80,262.36 L375.30,262.38 L375.80,262.39 L376.30,262.41 L376.80,262.43 L377.30,262.45 L377.80,262.47 L378.30,262.49 L378.80,262.51 L379.30,262.53" fill="none" stroke="#00ff00" stroke-width="1.5" stroke-dasharray="1.7 1.8"/>
<path d="M33.60,228.15H38.00M35.80,225.95V230.35M33.60,104.73H38.00M35.80,102.53V106.93M33.70,102.63L37.90,106.83M33.70,106.83L37.90,102.63M33.70,108.86L37.90,113.06M33.70,113.06L37.90,108.86M62.90,190.76H67.30M65.10,188.56V192.96M62.90,98.41H67.30M65.10,96.21V100.61M63.00,96.31L67.20,100.51M63.00,100.51L67.20,96.31M63.00,108.78L67.20,112.98M63.00,112.98L67.20,108.78M71.10,176.36H75.50M73.30,174.16V178.56M71.10,96.01H75.50M73.30,93.81V98.21M71.20,93.91L75.40,98.11M71.20,98.11L75.40,93.91M71.20,109.18L75.40,113.38M71.20,113.38L75.40,109.18M85.00,148.28H89.40M87.20,146.08V150.48M85.00,93.32H89.40M87.20,91.12V95.52M85.10,91.22L89.30,95.42M85.10,95.42L89.30,91.22M85.10,111.44L89.30,115.64M85.10,115.64L89.30,111.44M98.20,118.01H102.60M100.40,115.81V120.21M98.20,93.95H102.60M100.40,91.75V96.15M98.30,91.85L102.50,96.05M98.30,96.05L102.50,91.85M98.30,116.31L102.50,120.51M98.30,120.51L102.50,116.31M107.80,95.20H112.20M110.00,93.00V97.40M107.80,97.39H112.20M110.00,95.19V99.59M107.90,95.29L112.10,99.49M107.90,99.49L112.10,95.29M107.90,122.09L112.10,126.29M107.90,126.29L112.10,122.09M137.40,41.04H141.80M139.60,38.84V43.24M137.40,131.42H141.80M139.60,129.22V133.62M137.50,129.32L141.70,133.52M137.50,133.52L141.70,129.32M137.50,156.02L141.70,160.22M137.50,160.22L141.70,156.02M140.00,38.97H144.40M142.20,36.77V41.17M140.00,136.41H144.40M142.20,134.21V138.61M140.10,134.31L144.30,138.51M140.10,138.51L144.30,134.31M140.10,160.22L144.30,164.42M140.10,164.42L144.30,160.22M149.20,36.76H153.60M151.40,34.56V38.96M149.20,155.79H153.60M151.40,153.59V157.99M149.30,153.69L153.50,157.89M149.30,157.89L153.50,153.69M149.30,175.91L153.50,180.11M149.30,180.11L153.50,175.91M159.40,45.00H163.80M161.60,42.80V47.20M159.40,178.58H163.80M161.60,176.38V180.78M159.50,176.48L163.70,180.68M159.50,180.68L163.70,176.48M159.50,193.66L163.70,197.86M159.50,197.86L163.70,193.66M167.20,58.55H171.60M169.40,56.35V60.75M167.20,195.34H171.60M169.40,193.14V197.54M167.30,193.24L171.50,197.44M167.30,197.44L171.50,193.24M167.30,206.50L171.50,210.70M167.30,210.70L171.50,206.50M172.20,69.84H176.60M174.40,67.64V72.04M172.20,205.28H176.60M174.40,203.08V207.48M172.30,203.18L176.50,207.38M172.30,207.38L176.50,203.18M172.30,214.08L176.50,218.28M172.30,218.28L176.50,214.08M174.05,74.43H178.45M176.25,72.23V76.63M174.05,208.75H178.45M176.25,206.55V210.95M174.15,206.65L178.35,210.85M174.15,210.85L178.35,206.65M174.15,216.71L178.35,220.91M174.15,220.91L178.35,216.71M181.80,95.32H186.20M184.00,93.12V97.52M181.80,221.81H186.20M184.00,219.61V224.01M181.90,219.71L186.10,223.91M181.90,223.91L186.10,219.71M181.90,226.56L186.10,230.76M181.90,230.76L186.10,226.56M183.30,99.55H187.70M185.50,97.35V101.75M183.30,224.04H187.70M185.50,221.84V226.24M183.40,221.94L187.60,226.14M183.40,226.14L187.60,221.94M183.40,228.23L187.60,232.43M183.40,232.43L187.60,228.23M196.50,136.02H200.90M198.70,133.82V138.22M196.50,239.76H200.90M198.70,237.56V241.96M196.60,237.66L200.80,241.86M196.60,241.86L200.80,237.66M196.60,240.17L200.80,244.37M196.60,244.37L200.80,240.17M211.40,168.98H215.80M213.60,166.78V171.18M211.40,250.23H215.80M213.60,248.03V252.43M211.50,248.13L215.70,252.33M211.50,252.33L215.70,248.13M211.50,248.93L215.70,253.13M211.50,253.13L215.70,248.93M216.00,177.31H220.40M218.20,175.11V179.51M216.00,252.28H220.40M218.20,250.08V254.48M216.10,250.18L220.30,254.38M216.10,254.38L220.30,250.18M216.10,250.85L220.30,255.05M216.10,255.05L220.30,250.85M233.40,202.84H237.80M235.60,200.64V205.04M233.40,256.99H237.80M235.60,254.79V259.19M233.50,254.89L237.70,259.09M233.50,259.09L237.70,254.89M233.50,255.64L237.70,259.84M233.50,259.84L237.70,255.64M246.90,217.23H251.30M249.10,215.03V219.43M246.90,259.14H251.30M249.10,256.94V261.34M247.00,257.04L251.20,261.24M247.00,261.24L251.20,257.04M247.00,257.58L251.20,261.78M247.00,261.78L251.20,257.58M256.50,225.09H260.90M258.70,222.89V227.29M256.50,260.27H260.90M258.70,258.07V262.47M256.60,258.17L260.80,262.37M256.60,262.37L260.80,258.17M256.60,258.52L260.80,262.72M256.60,262.72L260.80,258.52M285.30,240.08H289.70M287.50,237.88V242.28M285.30,262.06H289.70M287.50,259.86V264.26M285.40,259.96L289.60,264.16M285.40,264.16L289.60,259.96M285.40,259.99L289.60,264.19M285.40,264.19L289.60,259.99M308.55,247.02H312.95M310.75,244.82V249.22M308.55,262.33H312.95M310.75,260.13V264.53M308.65,260.23L312.85,264.43M308.65,264.43L312.85,260.23M308.65,260.18L312.85,264.38M308.65,264.38L312.85,260.18M321.55,250.45H325.95M323.75,248.25V252.65M321.55,262.24H325.95M323.75,260.04V264.44M321.65,260.14L325.85,264.34M321.65,264.34L325.85,260.14M321.65,260.09L325.85,264.29M321.65,264.29L325.85,260.09M330.30,252.62H334.70M332.50,250.42V254.82M330.30,262.15H334.70M332.50,259.95V264.35M330.40,260.05L334.60,264.25M330.40,264.25L334.60,260.05M330.40,260.01L334.60,264.21M330.40,264.21L334.60,260.01M377.50,258.91H381.90M379.70,256.71V261.11M377.50,262.53H381.90M379.70,260.33V264.73M377.60,260.43L381.80,264.63M377.60,264.63L381.80,260.43M377.60,260.44L381.80,264.64M377.60,264.64L381.80,260.44" fill="none" stroke="#111" stroke-width="0.55"/>
<path d="M381,20.9H400.2" stroke="#ff0000" stroke-width="1.5" stroke-dasharray="6.7 2.1" fill="none"/>
<path d="M381,37.9H400.2" stroke="#0000ff" stroke-width="1.5" stroke-dasharray="3.7 3.7" fill="none"/>
<path d="M381.2,55.4H400.2" stroke="#00ff00" stroke-width="1.5" stroke-dasharray="1.8 1.8" fill="none"/>
<path d="M35.80,263.90h4.2M35.80,220.68h4.2M35.80,177.47h4.2M35.80,134.25h4.2M35.80,91.03h4.2M35.80,47.82h4.2M35.80,4.60h4.2M35.80,263.90v-4.2M35.80,4.60v4.2M58.13,263.90v-1.9M58.13,4.60v1.9M87.65,263.90v-1.9M87.65,4.60v1.9M102.79,263.90v-1.9M102.79,4.60v1.9M109.98,263.90v-4.2M109.98,4.60v4.2M132.31,263.90v-1.9M132.31,4.60v1.9M161.83,263.90v-1.9M161.83,4.60v1.9M176.97,263.90v-1.9M176.97,4.60v1.9M184.16,263.90v-4.2M184.16,4.60v4.2M206.49,263.90v-1.9M206.49,4.60v1.9M236.01,263.90v-1.9M236.01,4.60v1.9M251.15,263.90v-1.9M251.15,4.60v1.9M258.34,263.90v-4.2M258.34,4.60v4.2M280.67,263.90v-1.9M280.67,4.60v1.9M310.19,263.90v-1.9M310.19,4.60v1.9M325.33,263.90v-1.9M325.33,4.60v1.9M332.52,263.90v-4.2M332.52,4.60v4.2M354.85,263.90v-1.9M354.85,4.60v1.9M384.37,263.90v-1.9M384.37,4.60v1.9M399.51,263.90v-1.9M399.51,4.60v1.9M406.70,263.90v-4.2M406.70,4.60v4.2" fill="none" stroke="#000" stroke-width="1.2"/>
<rect x="35.8" y="4.6" width="370.90" height="259.30" fill="none" stroke="#000" stroke-width="1.5" stroke-linejoin="round"/>
<g opacity="0.999">
<text transform="translate(11.20,267.70) scale(1.0,1)" font-size="13.2" text-anchor="middle">0</text>
<text transform="translate(11.20,224.48) scale(1.0,1)" font-size="13.2" text-anchor="middle">0.05</text>
<text transform="translate(11.20,181.27) scale(1.0,1)" font-size="13.2" text-anchor="middle">0.1</text>
<text transform="translate(11.20,138.05) scale(1.0,1)" font-size="13.2" text-anchor="middle">0.15</text>
<text transform="translate(11.20,94.83) scale(1.0,1)" font-size="13.2" text-anchor="middle">0.2</text>
<text transform="translate(11.20,51.62) scale(1.0,1)" font-size="13.2" text-anchor="middle">0.25</text>
<text transform="translate(11.20,8.40) scale(1.0,1)" font-size="13.2" text-anchor="middle">0.3</text>
<text transform="translate(35.00,279.90) scale(1.0,1)" font-size="13.2" text-anchor="middle">0.01</text>
<text transform="translate(109.98,279.90) scale(1.0,1)" font-size="13.2" text-anchor="middle">0.1</text>
<text transform="translate(184.16,279.90) scale(1.0,1)" font-size="13.2" text-anchor="middle">1</text>
<text transform="translate(258.34,279.90) scale(1.0,1)" font-size="13.2" text-anchor="middle">10</text>
<text transform="translate(323.42,279.90) scale(1.0,1)" font-size="13.2">10</text>
<text transform="translate(336.22,274.70) scale(1.0,1)" font-size="8.7" class="s">2</text>
<text transform="translate(397.60,279.90) scale(1.0,1)" font-size="13.2">10</text>
<text transform="translate(410.40,274.70) scale(1.0,1)" font-size="8.7" class="s">3</text>
<text transform="translate(35.20,293.50) scale(1.0,1)" font-size="13" text-anchor="middle" class="i">a</text>
<text transform="translate(109.98,293.50) scale(1.0,1)" font-size="13" text-anchor="middle" class="i">b</text>
<text transform="translate(151.81,293.50) scale(1.0,1)" font-size="13" text-anchor="middle" class="i">c</text>
<text transform="translate(183.46,293.50) scale(1.0,1)" font-size="13" text-anchor="middle" class="i">d</text>
<text transform="translate(258.54,293.50) scale(1.0,1)" font-size="13" text-anchor="middle" class="i">e</text>
<text transform="translate(331.82,293.50) scale(1.0,1)" font-size="13" text-anchor="middle" class="i">f</text>
<text transform="translate(407.30,294.70) scale(1.0,1)" font-size="13" text-anchor="middle" class="i">κ</text>
<text transform="translate(287.04,23.80) scale(0.973,1)" font-size="13.2">(</text>
<text transform="translate(292.04,23.80) scale(1.432,1)" font-size="11.0" class="i">η</text>
<text transform="translate(314.64,23.80) scale(1.432,1)" font-size="11.0" class="i">η</text>
<text transform="translate(322.44,19.10) scale(1.407,1)" font-size="8.5" class="i s">vac</text>
<text transform="translate(339.59,23.80) scale(0.973,1)" font-size="13.2">)</text>
<text transform="translate(350.43,23.80) scale(1.454,1)" font-size="11.0" class="i">η</text>
<text transform="translate(359.06,19.10) scale(1.243,1)" font-size="8.5" class="i s">vac</text>
<text transform="translate(319.79,41.80) scale(0.953,1)" font-size="13.2">10</text>
<text transform="translate(332.51,37.20) scale(1.057,1)" font-size="8.5" class="s">2</text>
<text transform="translate(302.69,59.25) scale(0.953,1)" font-size="13.2">10</text>
<text transform="translate(315.41,54.65) scale(1.057,1)" font-size="8.5" class="s">2</text>
<text transform="translate(338.62,41.80) scale(1.476,1)" font-size="11.0" class="i">η</text>
<text transform="translate(321.43,59.25) scale(1.454,1)" font-size="11.0" class="i">η</text>
<text transform="translate(329.85,54.55) scale(1.260,1)" font-size="8.5" class="i s">vac</text>
<text transform="translate(352.95,41.80) scale(1.054,1)" font-size="11.0" class="i">ϵ</text>
<text transform="translate(358.90,44.60) scale(0.802,1)" font-size="8.5" class="s">1</text>
<text transform="translate(359.06,36.80) scale(1.243,1)" font-size="8.5" class="i s">vac</text>
<text transform="translate(352.95,59.25) scale(1.054,1)" font-size="11.0" class="i">ϵ</text>
<text transform="translate(358.90,62.05) scale(0.802,1)" font-size="8.5" class="s">1</text>
<text transform="translate(359.06,54.25) scale(1.243,1)" font-size="8.5" class="i s">vac</text>
<path d="M302.5,20.50H310.8M345.30,26.70L349.50,14.50M347.60,44.70L351.80,32.50M347.60,62.15L351.80,49.95" fill="none" stroke="#000" stroke-width="0.7"/>
</g>
</svg></body></html>
